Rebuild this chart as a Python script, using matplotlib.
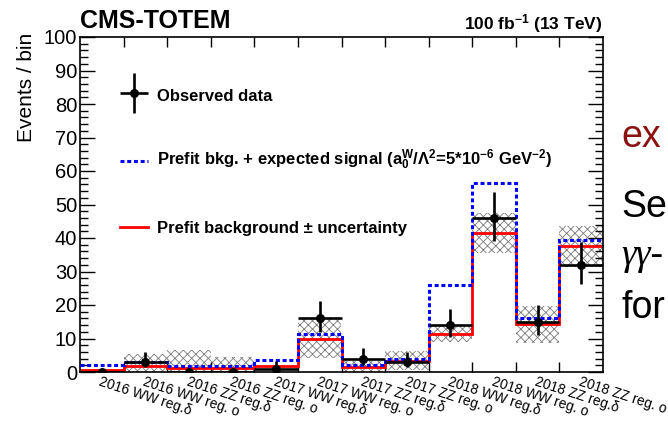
import numpy as np
import matplotlib
matplotlib.use("Agg")
import matplotlib.pyplot as plt
from matplotlib.ticker import MultipleLocator

plt.rcParams['font.family'] = ['Liberation Sans', 'DejaVu Sans']
plt.rcParams['mathtext.fontset'] = 'custom'
plt.rcParams['mathtext.rm'] = 'Liberation Sans:bold'
plt.rcParams['mathtext.it'] = 'Liberation Sans:bold'
plt.rcParams['mathtext.bf'] = 'Liberation Sans:bold'
plt.rcParams['mathtext.sf'] = 'Liberation Sans:bold'
plt.rcParams['hatch.linewidth'] = 0.6

# ---------------- data ----------------
bin_labels = ["2016 WW reg.δ", "2016 WW reg. o", "2016 ZZ reg.δ", "2016 ZZ reg. o",
              "2017 WW reg.δ", "2017 WW reg. o", "2017 ZZ reg.δ", "2017 ZZ reg. o",
              "2018 WW reg.δ", "2018 WW reg. o", "2018 ZZ reg.δ", "2018 ZZ reg. o"]
observed = [0, 3, 0, 0, 1, 16, 4, 3, 14, 46, 15, 32]
obs_err_low = [0, 1.6, 0, 0, 0.83, 4.0, 1.9, 1.6, 3.7, 6.8, 3.9, 5.6]
obs_err_high = [0, 2.9, 0, 0, 2.3, 5.1, 3.2, 2.9, 4.8, 7.8, 5.0, 6.7]
background = [0.5, 1.7, 1.3, 1.2, 1.7, 10.0, 1.5, 3.4, 11.3, 41.4, 14.2, 37.5]
bkg_unc = [0.3, 3.8, 5.4, 3.3, 0.4, 5.8, 1.8, 2.9, 2.3, 6.0, 5.6, 6.2]
bkg_plus_signal = [2.0, 3.0, 1.9, 1.9, 3.7, 11.3, 2.2, 3.9, 26.0, 56.4, 16.0, 39.4]

n = len(bin_labels)
edges = np.arange(n + 1)
centers = edges[:-1] + 0.5
bkg = np.array(background)
unc = np.array(bkg_unc)

fig = plt.figure(figsize=(6.68, 4.21), dpi=100)
ax = fig.add_axes([80/668, 1-372/421, 523/668, 335/421])

# uncertainty band
ax.bar(centers, 2*unc, bottom=bkg-unc, width=1.0, fill=False, hatch='xxxx',
       edgecolor='#7a7a7a', linewidth=0, zorder=1)
# background
ax.stairs(bkg, edges, baseline=None, color='#ff0000', lw=2.0, zorder=2)
# bkg + signal
ax.stairs(bkg_plus_signal, edges, baseline=None, color='#0000ff', lw=2.2,
          linestyle=(0, (1.3, 0.9)), zorder=3)
# data
ax.errorbar(centers, observed, xerr=0.5, yerr=[obs_err_low, obs_err_high],
            fmt='o', color='black', ms=5.5, elinewidth=1.9, capsize=0, zorder=4)

ax.set_xlim(0, n)
ax.set_ylim(0, 100)

# ticks
ax.set_xticks(edges[1:-1])
ax.set_xticklabels([])
ax.set_xticks(centers, bin_labels, minor=True)
ax.tick_params(axis='x', which='major', direction='in', top=True, bottom=True,
               length=7, width=1.0)
ax.tick_params(axis='x', which='minor', length=0, pad=2, labelsize=10)
for lbl in ax.get_xticklabels(minor=True):
    lbl.set_rotation(-18)
    lbl.set_ha('left')
    lbl.set_va('top')
    lbl.set_rotation_mode('anchor')

ax.yaxis.set_major_locator(MultipleLocator(10))
ax.yaxis.set_minor_locator(MultipleLocator(2))
ax.tick_params(axis='y', which='major', direction='in', left=True, right=True,
               length=11, width=1.0, labelsize=14.5, pad=2)
ax.tick_params(axis='y', which='minor', direction='in', left=True, right=True,
               length=5.5, width=1.0)
for s in ax.spines.values():
    s.set_linewidth(1.2)

ax.set_ylabel("Events / bin", fontsize=15, loc='top')
ax.yaxis.set_label_coords(-0.084, 1.012)

# legend (manual, ROOT style)
ax.errorbar([0.1033], [0.833], xerr=[0.0268], yerr=[0.06], transform=ax.transAxes,
            fmt='o', color='black', ms=5.5, elinewidth=1.9, capsize=0, clip_on=False)
ax.text(0.147, 0.809, "Observed data", transform=ax.transAxes, fontsize=12,
        fontweight='bold', va='baseline', ha='left')
ax.plot([0.0765, 0.130], [0.630, 0.630], transform=ax.transAxes, color='#0000ff',
        lw=2.2, linestyle=(0, (1.3, 0.9)))
ax.text(0.147, 0.618,
        r"Prefit bkg. + expected signal ($\mathrm{a}_0^{W}$/Λ$^{2}$=5*10$^{-6}$ GeV$^{-2}$)",
        transform=ax.transAxes, fontsize=12, fontweight='bold', va='baseline', ha='left')
ax.plot([0.0765, 0.130], [0.433, 0.433], transform=ax.transAxes, color='#ff0000', lw=2.0)
ax.text(0.147, 0.415, "Prefit background ± uncertainty", transform=ax.transAxes,
        fontsize=12, fontweight='bold', va='baseline', ha='left')

# headers
fig.text(80/668, 1-28/421, "CMS-TOTEM", fontsize=18, fontweight='bold',
         ha='left', va='baseline')
fig.text(602/668, 1-29/421, r"100 fb$^{-1}$ (13 TeV)", fontsize=12.5,
         fontweight='bold', ha='right', va='baseline')

# fragments of surrounding slide text
fig.text(621/668, 1-147/421, "ex", fontsize=27, color='#8b1010', ha='left', va='baseline')
fig.text(621/668, 1-217/421, "Se", fontsize=27, color='black', ha='left', va='baseline')
fig.text(621/668, 1-265/421, "γγ-", fontsize=27, color='black', ha='left', va='baseline',
         family=['Liberation Serif', 'DejaVu Serif'], style='italic')
fig.text(621/668, 1-318/421, "for", fontsize=27, color='black', ha='left', va='baseline')

fig.savefig("out.png", dpi=100, facecolor='white')
